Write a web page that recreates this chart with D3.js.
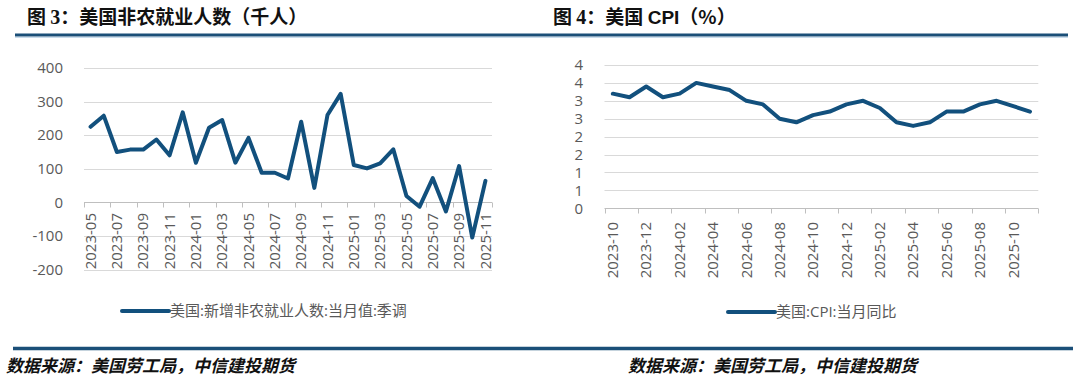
<!DOCTYPE html>
<html><head><meta charset="utf-8">
<script src="https://cdn.jsdelivr.net/npm/d3@7/dist/d3.min.js"></script>
<style>
html,body{margin:0;padding:0;background:#fff;}
svg{display:block;}
</style></head>
<body>
<svg id="c" width="1080" height="385"></svg>
<script>
// ---- data ----
const nfpCategories = ["2023-05","2023-06","2023-07","2023-08","2023-09","2023-10","2023-11","2023-12",
  "2024-01","2024-02","2024-03","2024-04","2024-05","2024-06","2024-07","2024-08","2024-09","2024-10","2024-11","2024-12",
  "2025-01","2025-02","2025-03","2025-04","2025-05","2025-06","2025-07","2025-08","2025-09","2025-10","2025-11"];
const nfpValues = [225,258,150,157,157,187,140,268,118,222,245,118,192,88,88,71,240,43,260,323,111,101,116,158,19,-13,72,-27,108,-105,64];
const nfpTicks = [-200,-100,0,100,200,300,400];

const cpiCategories = ["2023-10","2023-11","2023-12","2024-01","2024-02","2024-03","2024-04","2024-05","2024-06","2024-07","2024-08","2024-09",
  "2024-10","2024-11","2024-12","2025-01","2025-02","2025-03","2025-04","2025-05","2025-06","2025-07","2025-08","2025-09","2025-10","2025-11"];
const cpiValues = [3.2,3.1,3.4,3.1,3.2,3.5,3.4,3.3,3.0,2.9,2.5,2.4,2.6,2.7,2.9,3.0,2.8,2.4,2.3,2.4,2.7,2.7,2.9,3.0,2.85,2.7];
const cpiTicks = [0,0.5,1,1.5,2,2.5,3,3.5,4];

const leftTitle = ["图 ","3","：美国非农就业人数（千人）"];
const rightTitle = ["图 ","4","：美国 ","CPI","（%）"];
const leftLegend = "美国:新增非农就业人数:当月值:季调";
const rightLegend = "美国:CPI:当月同比";
const sourceText = "数据来源：美国劳工局，中信建投期货";

// ---- styles ----
const LINE = "#12507d";
const GRID = "#d9d9d9";
const AXIS = "#bfbfbf";
const LABEL = "#595959";
const LATIN = "'Open Sans','Noto Sans CJK SC',sans-serif";
const CJK = "'Noto Sans CJK SC',sans-serif";

const svg = d3.select("#c");

// header & footer
svg.append("line").attr("x1",15).attr("x2",1068).attr("y1",35).attr("y2",35)
  .attr("stroke","#1b4f78").attr("stroke-width",3);
svg.append("line").attr("x1",15).attr("x2",1068).attr("y1",37.5).attr("y2",37.5)
  .attr("stroke","#c9dcec").attr("stroke-width",1);
svg.append("line").attr("x1",13).attr("x2",1073).attr("y1",348.5).attr("y2",348.5)
  .attr("stroke","#1b4f78").attr("stroke-width",3.5);

function title(x, parts){
  const t = svg.append("text").attr("x",x).attr("y",24).attr("font-size",19)
    .attr("font-weight","bold").attr("fill","#111");
  parts.forEach(p=>{
    const isDigit = /^[0-9]$/.test(p);
    const isLatin = /^[A-Z]+$/.test(p);
    t.append("tspan").text(p)
      .attr("font-family", isDigit ? "'Liberation Serif',serif" : isLatin ? "'Liberation Sans',Arial,sans-serif" : CJK)
      .attr("font-size", isDigit ? 20 : 19);
  });
}
title(27, leftTitle);
title(553, rightTitle);

[6, 628].forEach(x=>{
  svg.append("text").attr("x",x).attr("y",372).attr("font-family",CJK)
    .attr("font-size",17).attr("font-weight","bold").attr("font-style","italic")
    .attr("fill","#111").attr("transform",`skewX(0)`).text(sourceText);
});

function chart(cfg){
  const g = svg.append("g");
  const x = d3.scaleBand().domain(cfg.cats).range(cfg.xr).paddingInner(0).paddingOuter(0);
  const y = d3.scaleLinear().domain(cfg.yd).range(cfg.yr);
  // grid
  g.selectAll(".grid").data(cfg.ticks.filter(t=>t!==cfg.axisAt)).enter().append("line")
    .attr("x1",cfg.xr[0]).attr("x2",cfg.xr[1])
    .attr("y1",d=>Math.round(y(d))+0.5).attr("y2",d=>Math.round(y(d))+0.5)
    .attr("stroke",GRID).attr("stroke-width",1);
  // y labels
  g.selectAll(".yl").data(cfg.ticks).enter().append("text")
    .attr("x",cfg.yLabelX).attr("y",d=>y(d)).attr("dy","0.35em")
    .attr("text-anchor","end").attr("font-family",LATIN).attr("font-size",15)
    .attr("fill",LABEL).text(cfg.yfmt);
  // x axis at axisAt
  const ay = Math.round(y(cfg.axisAt))+0.5;
  const xAxis = d3.axisBottom(x).tickSize(0).tickFormat("");
  const ax = g.append("g").attr("transform",`translate(0,${ay})`).call(xAxis);
  ax.select(".domain").attr("stroke",AXIS).attr("d",`M${cfg.xr[0]},0H${cfg.xr[1]}`);
  ax.selectAll(".tick").remove();
  // tick marks at every second band boundary
  const bw = x.bandwidth();
  const bounds = [];
  for(let i=0;i<=cfg.cats.length;i+=2) bounds.push(cfg.xr[0]+i*bw);
  if(cfg.cats.length%2===1) bounds.push(cfg.xr[1]);
  g.selectAll(".tk").data(bounds).enter().append("line")
    .attr("x1",d=>Math.round(d)+0.5).attr("x2",d=>Math.round(d)+0.5)
    .attr("y1",ay).attr("y2",ay+5).attr("stroke",AXIS);
  // x labels
  g.selectAll(".xl").data(cfg.cats.filter((d,i)=>i%2===0)).enter().append("text")
    .attr("transform",d=>`translate(${x(d)+bw/2},${ay+cfg.labelGap}) rotate(-90)`)
    .attr("dy","0.35em").attr("text-anchor","end")
    .attr("font-family",LATIN).attr("font-size",15).attr("fill",LABEL).text(d=>d);
  // line
  const line = d3.line().x((d,i)=>x(cfg.cats[i])+bw/2).y(d=>y(d));
  g.append("path").datum(cfg.vals).attr("d",line).attr("fill","none")
    .attr("stroke",LINE).attr("stroke-width",4).attr("stroke-linejoin","round").attr("stroke-linecap","round");
  // legend
  g.append("line").attr("x1",cfg.legX).attr("x2",cfg.legX+47).attr("y1",cfg.legY).attr("y2",cfg.legY)
    .attr("stroke",LINE).attr("stroke-width",4).attr("stroke-linecap","round");
  g.append("text").attr("x",cfg.legX+48).attr("y",cfg.legY).attr("dy","0.36em")
    .attr("font-family",LATIN).attr("font-size",15).attr("fill",LABEL).text(cfg.legend);
}

chart({cats:nfpCategories, vals:nfpValues, ticks:nfpTicks, yd:[-200,400], yr:[269.5,68],
  xr:[84,492], axisAt:0, yLabelX:63, yfmt:d=>d, labelGap:10.5, legX:122, legY:311, legend:leftLegend});
chart({cats:cpiCategories, vals:cpiValues, ticks:cpiTicks, yd:[0,4], yr:[208.3,65],
  xr:[604.5,1038.3], axisAt:0, yLabelX:583, yfmt:d=>Math.round(d), labelGap:13.5, legX:728, legY:312, legend:rightLegend});
</script>
</body></html>
